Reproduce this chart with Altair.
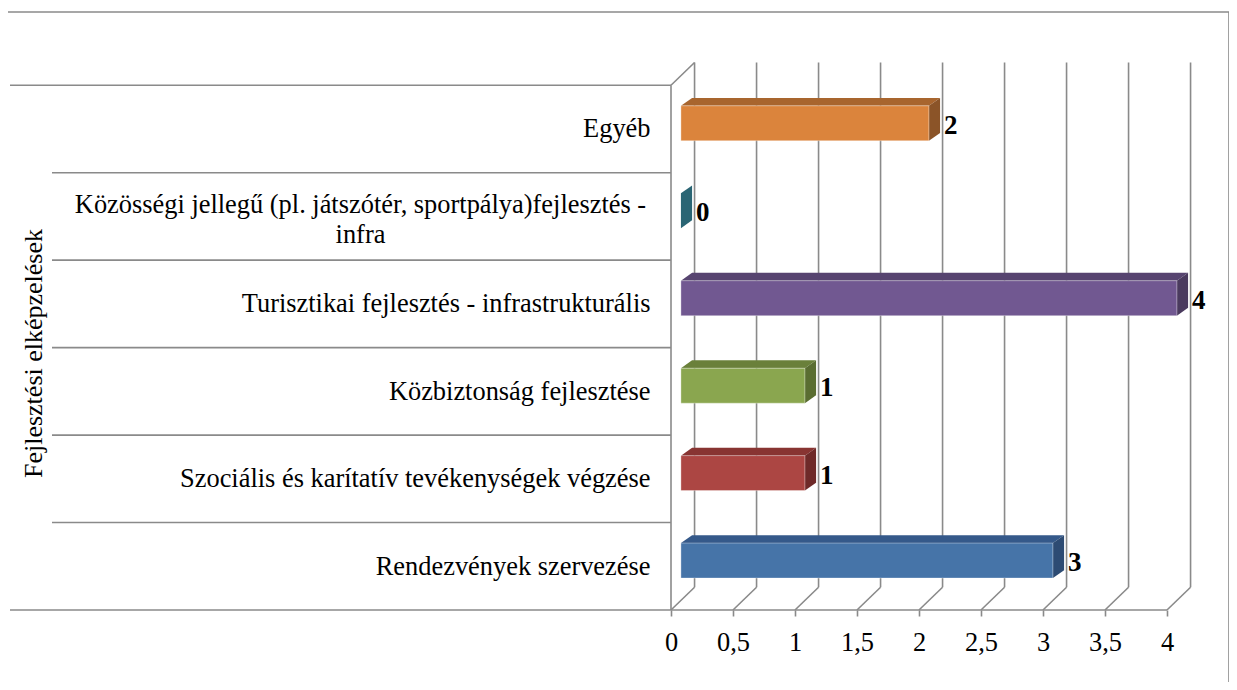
import altair as alt
import pandas as pd

# ---- data ----
categories = [
    "Rendezvények szervezése",
    "Szociális és karítatív tevékenységek végzése",
    "Közbiztonság fejlesztése",
    "Turisztikai fejlesztés - infrastrukturális",
    "Közösségi jellegű (pl. játszótér, sportpálya)fejlesztés - infra",
    "Egyéb",
]
label_lines = [
    ["Rendezvények szervezése"],
    ["Szociális és karítatív tevékenységek végzése"],
    ["Közbiztonság fejlesztése"],
    ["Turisztikai fejlesztés - infrastrukturális"],
    ["Közösségi jellegű (pl. játszótér, sportpálya)fejlesztés -", "infra"],
    ["Egyéb"],
]
values = [3, 1, 1, 4, 0, 2]
front_colors = ["#4674A8", "#AC4643", "#8AA64F", "#715891", "#2E6A78", "#DB843C"]
top_colors = ["#35598A", "#883432", "#6A803A", "#574470", "#245560", "#A8652E"]
side_colors = ["#2D4B73", "#6F2A29", "#5A6D31", "#4A3A5E", "#2A6574", "#8B5428"]
x_ticks = [0, 0.5, 1, 1.5, 2, 2.5, 3, 3.5, 4]
axis_title = "Fejlesztési elképzelések"

# ---- 3D look (in data units) ----
BAR_SHIFT = 0.08
BAR_DX, BAR_DY = 0.09, 0.09
WALL_DX, WALL_DY = 0.19, 0.26
FACE_H = 0.40
FACE_LIFT = 0.065
X_MAX = 4.25
Y_MAX = 6.3
GRAY = "#8A8A8A"
FONT = "Liberation Serif"
LABEL_SIZE = 26.4

front_rows, top_rows, side_rows, lab_rows = [], [], [], []
for i, (c, v) in enumerate(zip(categories, values)):
    yc = i + 0.5 + FACE_LIFT
    yb, yt = yc - FACE_H / 2, yc + FACE_H / 2
    x0, x1 = BAR_SHIFT, BAR_SHIFT + v
    if v > 0:
        front_rows.append(dict(cat=c, x0=x0, x1=x1, yb=yb, yt=yt, fill=front_colors[i]))
        top_rows.append(dict(cat=c, y=yt, xa=x0, xb=x1, fill=top_colors[i]))
        top_rows.append(dict(cat=c, y=yt + BAR_DY, xa=x0 + BAR_DX, xb=x1 + BAR_DX, fill=top_colors[i]))
    side_rows.append(dict(cat=c, x=x1, ya=yb, yb=yt, fill=side_colors[i]))
    side_rows.append(dict(cat=c, x=x1 + BAR_DX, ya=yb + BAR_DY, yb=yt + BAR_DY, fill=side_colors[i]))
    lab_rows.append(dict(cat=c, x=x1 + BAR_DX, y=yc - 0.03, txt=str(v)))

front_df = pd.DataFrame(front_rows)
top_df = pd.DataFrame(top_rows)
side_df = pd.DataFrame(side_rows)
lab_df = pd.DataFrame(lab_rows)

n = len(categories)
grid_df = pd.DataFrame(dict(t=x_ticks))
grid_df["xb"] = grid_df["t"] + WALL_DX
grid_df["y0"] = WALL_DY
grid_df["y1"] = n + WALL_DY
grid_df["yf"] = 0.0
grid_df["yd"] = WALL_DY

sep_df = pd.DataFrame(dict(y=list(range(n + 1))))
sep_outer = sep_df[(sep_df.y == 0) | (sep_df.y == n)]
sep_inner = sep_df[(sep_df.y > 0) & (sep_df.y < n)]

wall_df = pd.DataFrame([dict(x=0.0, x2=0.0, y=0.0, y2=float(n)),
                        dict(x=0.0, x2=WALL_DX, y=float(n), y2=n + WALL_DY),
                        dict(x=0.0, x2=float(x_ticks[-1]), y=0.0, y2=0.0)])

parts = []
for i, lines in enumerate(label_lines):
    if len(lines) == 1:
        lit = "'" + lines[0] + "'"
    else:
        lit = "[" + ", ".join("'" + s + "'" for s in lines) + "]"
    parts.append(f"datum.value == {i + 0.5} ? {lit} : ")
label_expr = "".join(parts) + "''"
multi_val = [i + 0.5 for i, l in enumerate(label_lines) if len(l) > 1][0]
multi_test = f"datum.value == {multi_val}"

xs = alt.Scale(domain=[0, X_MAX], nice=False, zero=False)
ys = alt.Scale(domain=[0, Y_MAX], nice=False, zero=False)

y_axis = alt.Axis(
    values=[i + 0.5 for i in range(n)],
    labelExpr=label_expr,
    labelFont=FONT, labelFontSize=LABEL_SIZE, labelColor="black", labelLineHeight=30,
    labelLimit=800,
    labelAlign={"condition": {"test": multi_test, "value": "center"}, "value": "right"},
    labelPadding={"condition": {"test": multi_test, "value": 311}, "value": 21},
    labelOffset={"condition": {"test": multi_test, "value": -12}, "value": 0},
    labelBaseline="middle",
    labelOverlap=False, labelBound=False,
    ticks=False, domain=False, grid=False,
    title=axis_title, titleFont=FONT, titleFontSize=26, titleFontWeight="normal",
    titleColor="black", titleAngle=-90, titleX=-638, titleY=294,
    titleAlign="center", titleBaseline="middle", titleLimit=800,
)
x_axis = alt.Axis(
    values=x_ticks,
    labelExpr="replace(format(datum.value, '~g'), '.', ',')",
    labelFont=FONT, labelFontSize=LABEL_SIZE, labelColor="black", labelPadding=13,
    labelOverlap=False, labelFlush=False,
    ticks=True, tickSize=6, tickColor=GRAY, tickWidth=1.6,
    domain=False, grid=False, title=None,
)


def X(field, **kw):
    return alt.X(field, scale=xs, axis=x_axis, **kw)


def Y(field, **kw):
    return alt.Y(field, scale=ys, axis=y_axis, **kw)


grid = alt.Chart(grid_df).mark_rule(color=GRAY, strokeWidth=1.6).encode(
    x=X("xb:Q"), y=Y("y0:Q"), y2="y1:Q",
)
floor = alt.Chart(grid_df).mark_rule(color=GRAY, strokeWidth=1.6).encode(
    x=X("t:Q"), x2="xb:Q", y=Y("yf:Q"), y2="yd:Q",
)
walls = alt.Chart(wall_df).mark_rule(color=GRAY, strokeWidth=1.6).encode(
    x=X("x:Q"), x2="x2:Q", y=Y("y:Q"), y2="y2:Q",
)
sep1 = alt.Chart(sep_outer).mark_rule(color=GRAY, strokeWidth=1.6).encode(
    y=Y("y:Q"), x=alt.value(-661), x2=alt.value(0),
)
sep2 = alt.Chart(sep_inner).mark_rule(color=GRAY, strokeWidth=1.6).encode(
    y=Y("y:Q"), x=alt.value(-619), x2=alt.value(0),
)
frame = alt.Chart(pd.DataFrame(dict(k=[0]))).mark_rect(
    fill=None, stroke=GRAY, strokeWidth=1.6
).encode(x=alt.value(-664), x2=alt.value(558), y=alt.value(-47), y2=alt.value(720))

front = alt.Chart(front_df).mark_rect(stroke="white", strokeOpacity=0.35, strokeWidth=1).encode(
    x=X("x0:Q"), x2="x1:Q", y=Y("yb:Q"), y2="yt:Q",
    color=alt.Color("fill:N", scale=None),
)
top = alt.Chart(top_df).mark_area(orient="horizontal").encode(
    y=Y("y:Q"), x=X("xa:Q", stack=None), x2="xb:Q",
    color=alt.Color("fill:N", scale=None), detail="cat:N",
)
side = alt.Chart(side_df).mark_area(orient="vertical").encode(
    x=X("x:Q"), y=Y("ya:Q", stack=None), y2="yb:Q",
    color=alt.Color("fill:N", scale=None), detail="cat:N",
)
labels = alt.Chart(lab_df).mark_text(
    align="left", baseline="middle", dx=4, font=FONT, fontSize=27, fontWeight="bold", color="black"
).encode(
    x=X("x:Q"), y=Y("y:Q"), text="txt:N",
)

chart = alt.layer(grid, floor, walls, sep1, sep2, frame, top, side, front, labels).properties(
    width=int(X_MAX * 124), height=int(Y_MAX * 87.5),
    autosize=alt.AutoSizeParams(type="none"),
    padding={"left": 663, "top": 51, "right": 31, "bottom": 72},
    background="white",
).configure_view(stroke=None).configure_axis(
    labelFont=FONT, labelFontSize=LABEL_SIZE, labelColor="black", labelLimit=800,
    titleFont=FONT, titleFontSize=26, titleFontWeight="normal", titleColor="black",
)

chart.save("out.html", embed_options={"renderer": "svg", "actions": False})
